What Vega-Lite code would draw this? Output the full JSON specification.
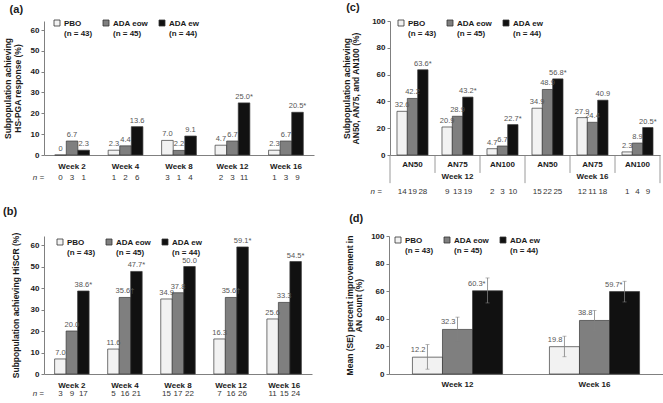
{
  "$schema": "https://vega.github.io/schema/vega-lite/v6.json",
  "background": "white",
  "padding": {"left": 3, "top": 2, "right": 0, "bottom": 0},
  "config": {
    "font": "Liberation Sans",
    "view": {"stroke": null},
    "axis": {"labelFontSize": 8, "labelFontWeight": "bold", "labelColor": "#1a1a1a", "titleFontSize": 8.5, "titleFontWeight": "bold", "titleColor": "#1a1a1a", "domainColor": "#808080", "tickColor": "#808080", "tickSize": 3, "grid": false, "labelPadding": 2, "titleLineHeight": 9.5, "labelOverlap": false},
    "axisX": {"ticks": false, "labelAngle": 0, "title": null},
    "legend": {"orient": "none", "direction": "horizontal", "title": null, "symbolType": "M-1,-2H1V0H-1Z", "symbolSize": 36, "symbolStrokeColor": "#333333", "symbolStrokeWidth": 0.8, "labelFontSize": 8, "labelFontWeight": "bold", "labelColor": "#1a1a1a", "labelOffset": 3, "columnPadding": 8, "labelBaseline": "alphabetic", "padding": 0},
    "title": {"anchor": "start", "frame": "bounds", "fontSize": 11, "fontWeight": "bold", "color": "#1a1a1a"},
    "text": {"opacity": 0.99}
  },
  "datasets": {
    "a": [
      {"Week": "Week 2", "g": "PBO", "v": 0, "lab": "0", "n": "0"},
      {"Week": "Week 2", "g": "ADA eow", "v": 6.7, "lab": "6.7", "n": "3"},
      {"Week": "Week 2", "g": "ADA ew", "v": 2.3, "lab": "2.3", "n": "1"},
      {"Week": "Week 4", "g": "PBO", "v": 2.3, "lab": "2.3", "n": "1"},
      {"Week": "Week 4", "g": "ADA eow", "v": 4.4, "lab": "4.4", "n": "2"},
      {"Week": "Week 4", "g": "ADA ew", "v": 13.6, "lab": "13.6", "n": "6"},
      {"Week": "Week 8", "g": "PBO", "v": 7.0, "lab": "7.0", "n": "3"},
      {"Week": "Week 8", "g": "ADA eow", "v": 2.2, "lab": "2.2", "n": "1"},
      {"Week": "Week 8", "g": "ADA ew", "v": 9.1, "lab": "9.1", "n": "4"},
      {"Week": "Week 12", "g": "PBO", "v": 4.7, "lab": "4.7", "n": "2"},
      {"Week": "Week 12", "g": "ADA eow", "v": 6.7, "lab": "6.7", "n": "3"},
      {"Week": "Week 12", "g": "ADA ew", "v": 25.0, "lab": "25.0*", "n": "11"},
      {"Week": "Week 16", "g": "PBO", "v": 2.3, "lab": "2.3", "n": "1"},
      {"Week": "Week 16", "g": "ADA eow", "v": 6.7, "lab": "6.7", "n": "3"},
      {"Week": "Week 16", "g": "ADA ew", "v": 20.5, "lab": "20.5*", "n": "9"}
    ],
    "b": [
      {"Week": "Week 2", "g": "PBO", "v": 7.0, "lab": "7.0", "n": "3"},
      {"Week": "Week 2", "g": "ADA eow", "v": 20.0, "lab": "20.0", "n": "9"},
      {"Week": "Week 2", "g": "ADA ew", "v": 38.6, "lab": "38.6*", "n": "17"},
      {"Week": "Week 4", "g": "PBO", "v": 11.6, "lab": "11.6", "n": "5"},
      {"Week": "Week 4", "g": "ADA eow", "v": 35.6, "lab": "35.6†", "n": "16"},
      {"Week": "Week 4", "g": "ADA ew", "v": 47.7, "lab": "47.7*", "n": "21"},
      {"Week": "Week 8", "g": "PBO", "v": 34.9, "lab": "34.9", "n": "15"},
      {"Week": "Week 8", "g": "ADA eow", "v": 37.8, "lab": "37.8", "n": "17"},
      {"Week": "Week 8", "g": "ADA ew", "v": 50.0, "lab": "50.0", "n": "22"},
      {"Week": "Week 12", "g": "PBO", "v": 16.3, "lab": "16.3", "n": "7"},
      {"Week": "Week 12", "g": "ADA eow", "v": 35.6, "lab": "35.6†", "n": "16"},
      {"Week": "Week 12", "g": "ADA ew", "v": 59.1, "lab": "59.1*", "n": "26"},
      {"Week": "Week 16", "g": "PBO", "v": 25.6, "lab": "25.6", "n": "11"},
      {"Week": "Week 16", "g": "ADA eow", "v": 33.3, "lab": "33.3", "n": "15"},
      {"Week": "Week 16", "g": "ADA ew", "v": 52.3, "lab": "54.5*", "n": "24"}
    ],
    "c": [
      {"cat": "12|AN50", "g": "PBO", "v": 32.6, "lab": "32.6", "n": "14"},
      {"cat": "12|AN50", "g": "ADA eow", "v": 42.2, "lab": "42.2", "n": "19"},
      {"cat": "12|AN50", "g": "ADA ew", "v": 63.6, "lab": "63.6*", "n": "28"},
      {"cat": "12|AN75", "g": "PBO", "v": 20.9, "lab": "20.9", "n": "9"},
      {"cat": "12|AN75", "g": "ADA eow", "v": 28.9, "lab": "28.9", "n": "13"},
      {"cat": "12|AN75", "g": "ADA ew", "v": 43.2, "lab": "43.2*", "n": "19"},
      {"cat": "12|AN100", "g": "PBO", "v": 4.7, "lab": "4.7", "n": "2"},
      {"cat": "12|AN100", "g": "ADA eow", "v": 6.7, "lab": "6.7", "n": "3"},
      {"cat": "12|AN100", "g": "ADA ew", "v": 22.7, "lab": "22.7*", "n": "10"},
      {"cat": "16|AN50", "g": "PBO", "v": 34.9, "lab": "34.9", "n": "15"},
      {"cat": "16|AN50", "g": "ADA eow", "v": 48.9, "lab": "48.9", "n": "22"},
      {"cat": "16|AN50", "g": "ADA ew", "v": 56.8, "lab": "56.8*", "n": "25"},
      {"cat": "16|AN75", "g": "PBO", "v": 27.9, "lab": "27.9", "n": "12"},
      {"cat": "16|AN75", "g": "ADA eow", "v": 24.4, "lab": "24.4", "n": "11"},
      {"cat": "16|AN75", "g": "ADA ew", "v": 40.9, "lab": "40.9", "n": "18"},
      {"cat": "16|AN100", "g": "PBO", "v": 2.3, "lab": "2.3", "n": "1"},
      {"cat": "16|AN100", "g": "ADA eow", "v": 8.9, "lab": "8.9", "n": "4"},
      {"cat": "16|AN100", "g": "ADA ew", "v": 20.5, "lab": "20.5*", "n": "9"}
    ],
    "d": [
      {"Week": "Week 12", "g": "PBO", "v": 12.2, "lab": "12.2", "lo": 3.5, "hi": 21.3},
      {"Week": "Week 12", "g": "ADA eow", "v": 32.3, "lab": "32.3", "lo": 23.8, "hi": 41.2},
      {"Week": "Week 12", "g": "ADA ew", "v": 60.3, "lab": "60.3*", "lo": 51.5, "hi": 69.6},
      {"Week": "Week 16", "g": "PBO", "v": 19.8, "lab": "19.8", "lo": 12.5, "hi": 27.4},
      {"Week": "Week 16", "g": "ADA eow", "v": 38.8, "lab": "38.8", "lo": 31.5, "hi": 46.1},
      {"Week": "Week 16", "g": "ADA ew", "v": 59.7, "lab": "59.7*", "lo": 52.2, "hi": 67.2}
    ]
  },
  "resolve": {"scale": {"x": "independent", "y": "independent", "color": "independent", "xOffset": "independent"}, "legend": {"color": "independent"}},
  "spacing": 10,
  "vconcat": [
    {
      "spacing": 28,
      "resolve": {"scale": {"x": "independent", "y": "independent", "color": "independent", "xOffset": "independent"}, "legend": {"color": "independent"}},
      "hconcat": [
        {
          "width": 270, "height": 134,
          "title": {"text": "(a)", "offset": 6, "dx": 6},
          "data": {"name": "a"},
          "encoding": {
            "x": {"field": "Week", "type": "nominal", "scale": {"domain": ["Week 2", "Week 4", "Week 8", "Week 12", "Week 16"], "paddingInner": 0.35, "paddingOuter": 0.2}, "axis": {"labelPadding": 7}},
            "xOffset": {"field": "g", "type": "nominal", "scale": {"domain": ["PBO", "ADA eow", "ADA ew"]}}
          },
          "layer": [
            {
              "mark": {"type": "bar", "stroke": "#3a3a3a", "strokeWidth": 0.7},
              "encoding": {
                "y": {"field": "v", "type": "quantitative", "scale": {"domain": [0, 64.32], "nice": false}, "axis": {"title": ["Subpopulation achieving", "HS-PGA response (%)"], "values": [0, 10, 20, 30, 40, 50, 60], "tickCount": 20, "titlePadding": 8}},
                "color": {"field": "g", "type": "nominal", "scale": {"domain": ["PBO", "ADA eow", "ADA ew"], "range": ["#f2f2f2", "#7f7f7f", "#111111"]}, "legend": {"legendX": 9, "legendY": 1, "labelExpr": "[datum.label, datum.label == 'PBO' ? '(n = 43)' : (datum.label == 'ADA eow' ? '(n = 45)' : '(n = 44)')]"}}
              }
            },
            {
              "mark": {"type": "text", "baseline": "bottom", "dy": -2, "fontSize": 7.5, "color": "#555555"},
              "encoding": {"y": {"field": "v", "type": "quantitative"}, "text": {"field": "lab"}}
            },
            {
              "mark": {"type": "text", "baseline": "middle", "fontSize": 8, "color": "#333333"},
              "encoding": {"y": {"datum": -11}, "text": {"field": "n"}}
            },
            {
              "data": {"values": [{"t": "n ="}]},
              "mark": {"type": "text", "baseline": "middle", "fontSize": 8, "fontStyle": "italic", "color": "#333333", "dx": -22},
              "encoding": {"x": {"datum": "Week 2"}, "xOffset": {"datum": "PBO"}, "y": {"datum": -11}, "text": {"field": "t"}}
            }
          ]
        },
        {
          "width": 270, "height": 134,
          "title": {"text": "(c)", "offset": 4, "dx": 4},
          "data": {"name": "c"},
          "encoding": {
            "x": {"field": "cat", "type": "nominal", "scale": {"domain": ["12|AN50", "12|AN75", "12|AN100", "16|AN50", "16|AN75", "16|AN100"], "paddingInner": 0, "paddingOuter": 0}, "axis": {"labelPadding": 5, "labelExpr": "split(datum.label, '|')[1]"}},
            "xOffset": {"field": "g", "type": "nominal", "scale": {"domain": ["PBO", "ADA eow", "ADA ew"], "paddingInner": 0, "paddingOuter": 0.675}}
          },
          "layer": [
            {
              "mark": {"type": "bar", "stroke": "#3a3a3a", "strokeWidth": 0.7},
              "encoding": {
                "y": {"field": "v", "type": "quantitative", "scale": {"domain": [0, 100], "nice": false}, "axis": {"title": ["Subpopulation achieving", "AN50, AN75, and AN100 (%)"], "values": [0, 20, 40, 60, 80, 100], "tickCount": 20, "titlePadding": 11}},
                "color": {"field": "g", "type": "nominal", "scale": {"domain": ["PBO", "ADA eow", "ADA ew"], "range": ["#f2f2f2", "#7f7f7f", "#111111"]}, "legend": {"legendX": 7, "legendY": 1, "labelExpr": "[datum.label, datum.label == 'PBO' ? '(n = 43)' : (datum.label == 'ADA eow' ? '(n = 45)' : '(n = 44)')]"}}
              }
            },
            {
              "mark": {"type": "text", "baseline": "bottom", "dy": -2, "fontSize": 7.5, "color": "#555555"},
              "encoding": {"y": {"field": "v", "type": "quantitative"}, "text": {"field": "lab"}}
            },
            {
              "mark": {"type": "text", "baseline": "middle", "fontSize": 8, "color": "#333333"},
              "encoding": {"y": {"datum": -27.6}, "text": {"field": "n"}}
            },
            {
              "data": {"values": [{"t": "n ="}]},
              "mark": {"type": "text", "baseline": "middle", "fontSize": 8, "fontStyle": "italic", "color": "#333333", "dx": -26},
              "encoding": {"x": {"datum": "12|AN50"}, "xOffset": {"datum": "PBO"}, "y": {"datum": -27.6}, "text": {"field": "t"}}
            },
            {
              "data": {"values": [{"cat": "12|AN75", "t": "Week 12"}, {"cat": "16|AN75", "t": "Week 16"}]},
              "mark": {"type": "text", "baseline": "middle", "fontSize": 8, "fontWeight": "bold", "color": "#1a1a1a"},
              "encoding": {"x": {"field": "cat", "type": "nominal"}, "xOffset": null, "y": {"datum": -16.4}, "text": {"field": "t"}}
            },
            {
              "data": {"values": [{"cat": "12|AN75"}, {"cat": "12|AN100"}, {"cat": "16|AN75"}, {"cat": "16|AN100"}]},
              "mark": {"type": "rule", "color": "#808080", "strokeWidth": 0.8},
              "encoding": {"x": {"field": "cat", "type": "nominal", "bandPosition": 0}, "xOffset": null, "y": {"datum": 0}, "y2": {"datum": -13.4}}
            },
            {
              "data": {"values": [{"cat": "12|AN50"}, {"cat": "16|AN50"}]},
              "mark": {"type": "rule", "color": "#808080", "strokeWidth": 0.8},
              "encoding": {"x": {"field": "cat", "type": "nominal", "bandPosition": 0}, "xOffset": null, "y": {"datum": 0}, "y2": {"datum": -21}}
            },
            {
              "data": {"values": [{"cat": "16|AN100"}]},
              "mark": {"type": "rule", "color": "#808080", "strokeWidth": 0.8},
              "encoding": {"x": {"field": "cat", "type": "nominal", "bandPosition": 1}, "xOffset": null, "y": {"datum": 0}, "y2": {"datum": -21}}
            }
          ]
        }
      ]
    },
    {
      "spacing": 33,
      "resolve": {"scale": {"x": "independent", "y": "independent", "color": "independent", "xOffset": "independent"}, "legend": {"color": "independent"}},
      "hconcat": [
        {
          "width": 268, "height": 138,
          "title": {"text": "(b)", "offset": 14, "dx": -8},
          "data": {"name": "b"},
          "encoding": {
            "x": {"field": "Week", "type": "nominal", "scale": {"domain": ["Week 2", "Week 4", "Week 8", "Week 12", "Week 16"], "paddingInner": 0.35, "paddingOuter": 0.2}, "axis": {"labelPadding": 7}},
            "xOffset": {"field": "g", "type": "nominal", "scale": {"domain": ["PBO", "ADA eow", "ADA ew"]}}
          },
          "layer": [
            {
              "mark": {"type": "bar", "stroke": "#3a3a3a", "strokeWidth": 0.7},
              "encoding": {
                "y": {"field": "v", "type": "quantitative", "scale": {"domain": [0, 64.19], "nice": false}, "axis": {"title": "Subpopulation achieving HiSCR  (%)", "values": [0, 10, 20, 30, 40, 50, 60], "tickCount": 20, "titlePadding": 10}},
                "color": {"field": "g", "type": "nominal", "scale": {"domain": ["PBO", "ADA eow", "ADA ew"], "range": ["#f2f2f2", "#7f7f7f", "#111111"]}, "legend": {"legendX": 12, "legendY": 5, "labelExpr": "[datum.label, datum.label == 'PBO' ? '(n = 43)' : (datum.label == 'ADA eow' ? '(n = 45)' : '(n = 44)')]"}}
              }
            },
            {
              "mark": {"type": "text", "baseline": "bottom", "dy": -2, "fontSize": 7.5, "color": "#555555"},
              "encoding": {"y": {"field": "v", "type": "quantitative"}, "text": {"field": "lab"}}
            },
            {
              "mark": {"type": "text", "baseline": "middle", "fontSize": 8, "color": "#333333"},
              "encoding": {"y": {"datum": -9.3}, "text": {"field": "n"}}
            },
            {
              "data": {"values": [{"t": "n ="}]},
              "mark": {"type": "text", "baseline": "middle", "fontSize": 8, "fontStyle": "italic", "color": "#333333", "dx": -22},
              "encoding": {"x": {"datum": "Week 2"}, "xOffset": {"datum": "PBO"}, "y": {"datum": -9.3}, "text": {"field": "t"}}
            }
          ]
        },
        {
          "width": 274, "height": 138,
          "title": {"text": "(d)", "offset": 8, "dx": 4},
          "data": {"name": "d"},
          "encoding": {
            "x": {"field": "Week", "type": "nominal", "scale": {"domain": ["Week 12", "Week 16"], "paddingInner": 0, "paddingOuter": 0}, "axis": {"labelPadding": 6}},
            "xOffset": {"field": "g", "type": "nominal", "scale": {"domain": ["PBO", "ADA eow", "ADA ew"], "paddingInner": 0, "paddingOuter": 0.78}}
          },
          "layer": [
            {
              "mark": {"type": "bar", "stroke": "#3a3a3a", "strokeWidth": 0.7},
              "encoding": {
                "y": {"field": "v", "type": "quantitative", "scale": {"domain": [0, 100], "nice": false}, "axis": {"title": ["Mean (SE) percent improvement in", "AN count (%)"], "values": [0, 20, 40, 60, 80, 100], "tickCount": 20, "titlePadding": 7}},
                "color": {"field": "g", "type": "nominal", "scale": {"domain": ["PBO", "ADA eow", "ADA ew"], "range": ["#f2f2f2", "#7f7f7f", "#111111"]}, "legend": {"legendX": 5, "legendY": 3, "labelExpr": "[datum.label, datum.label == 'PBO' ? '(n = 43)' : (datum.label == 'ADA eow' ? '(n = 45)' : '(n = 44)')]"}}
              }
            },
            {
              "mark": {"type": "rule", "color": "#808080", "strokeWidth": 0.8},
              "encoding": {"y": {"field": "lo", "type": "quantitative"}, "y2": {"field": "hi"}}
            },
            {
              "mark": {"type": "tick", "color": "#808080", "thickness": 0.8},
              "encoding": {"y": {"field": "lo", "type": "quantitative"}, "size": {"value": 4}}
            },
            {
              "mark": {"type": "tick", "color": "#808080", "thickness": 0.8},
              "encoding": {"y": {"field": "hi", "type": "quantitative"}, "size": {"value": 4}}
            },
            {
              "mark": {"type": "text", "baseline": "bottom", "align": "right", "dx": -2, "dy": -3, "fontSize": 7.5, "color": "#555555"},
              "encoding": {"y": {"field": "v", "type": "quantitative"}, "text": {"field": "lab"}}
            }
          ]
        }
      ]
    }
  ]
}
